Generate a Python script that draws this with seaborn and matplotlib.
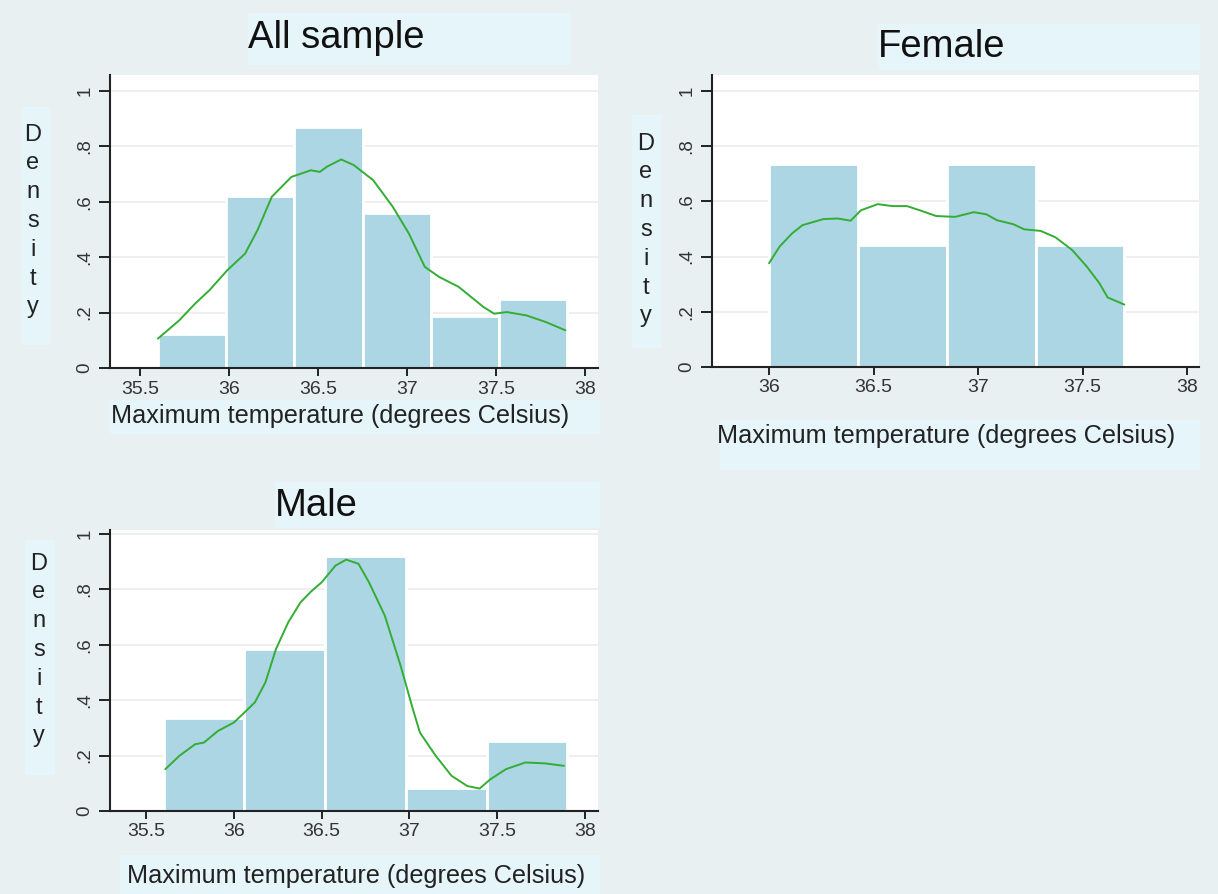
import numpy as np
import pandas as pd
import matplotlib
matplotlib.use("Agg")
import matplotlib.pyplot as plt
from matplotlib.patches import Rectangle
import seaborn as sns

# ---------------- data ----------------
all_edges = [35.6, 35.983, 36.367, 36.75, 37.133, 37.517, 37.9]
all_counts = [2, 10, 14, 9, 3, 4]
all_kde_x = [35.60, 35.72, 35.81, 35.89, 35.99, 36.09, 36.16, 36.24, 36.35, 36.46,
             36.51, 36.55, 36.63, 36.70, 36.81, 36.92, 37.01, 37.10, 37.18, 37.29,
             37.43, 37.49, 37.56, 37.67, 37.78, 37.89]
all_kde_y = [0.106, 0.172, 0.233, 0.281, 0.353, 0.413, 0.498, 0.618, 0.690, 0.714,
             0.708, 0.727, 0.753, 0.733, 0.678, 0.582, 0.486, 0.365, 0.329, 0.293,
             0.220, 0.196, 0.202, 0.190, 0.166, 0.136]

female_edges = [36.0, 36.425, 36.85, 37.275, 37.7]
female_counts = [5, 3, 5, 3]
female_kde_x = [36.00, 36.05, 36.11, 36.16, 36.26, 36.33, 36.39, 36.44, 36.52, 36.59,
                36.66, 36.72, 36.80, 36.89, 36.98, 37.04, 37.09, 37.17, 37.22, 37.30,
                37.37, 37.45, 37.52, 37.58, 37.62, 37.70]
female_kde_y = [0.376, 0.436, 0.484, 0.514, 0.536, 0.538, 0.530, 0.568, 0.590, 0.583,
                0.583, 0.568, 0.547, 0.544, 0.561, 0.553, 0.532, 0.517, 0.499, 0.493,
                0.470, 0.424, 0.364, 0.304, 0.252, 0.226]

male_edges = [35.6, 36.06, 36.52, 36.98, 37.44, 37.9]
male_counts = [4, 7, 11, 1, 3]
male_kde_x = [35.61, 35.69, 35.78, 35.83, 35.91, 36.00, 36.04, 36.12, 36.18, 36.24,
              36.31, 36.38, 36.44, 36.50, 36.58, 36.64, 36.71, 36.77, 36.86, 36.95,
              37.02, 37.06, 37.15, 37.24, 37.33, 37.40, 37.46, 37.55, 37.66, 37.77,
              37.88]
male_kde_y = [0.151, 0.199, 0.241, 0.247, 0.289, 0.319, 0.343, 0.392, 0.464, 0.584,
              0.681, 0.753, 0.792, 0.825, 0.886, 0.907, 0.892, 0.825, 0.705, 0.524,
              0.367, 0.283, 0.199, 0.127, 0.090, 0.081, 0.114, 0.151, 0.175, 0.172,
              0.163]

titles = ["All sample", "Female", "Male"]
x_label = "Maximum temperature (degrees Celsius)"
y_label = "Density"
y_ticks = [0, 0.2, 0.4, 0.6, 0.8, 1.0]
y_ticklabels = ["0", ".2", ".4", ".6", ".8", "1"]
x_ticks_full = [35.5, 36, 36.5, 37, 37.5, 38]
x_ticklabels_full = ["35.5", "36", "36.5", "37", "37.5", "38"]
x_ticks_f = [36, 36.5, 37, 37.5, 38]
x_ticklabels_f = ["36", "36.5", "37", "37.5", "38"]

# ---------------- style ----------------
sns.set_theme(style="white")
plt.rcParams['font.family'] = ['Liberation Sans', 'DejaVu Sans']

BG = "#e9f0f2"
BOX = "#e5f5fa"
BAR = "#acd6e4"
GREEN = "#33ad33"
AX = "#222222"

W, H = 1218, 894
fig = plt.figure(figsize=(W / 100, H / 100), dpi=100)
fig.patch.set_facecolor(BG)


def add_box(x0, y0, x1, y1):
    fig.patches.append(Rectangle((x0 / W, 1 - y1 / H), (x1 - x0) / W, (y1 - y0) / H,
                                 transform=fig.transFigure, facecolor=BOX,
                                 edgecolor="none", zorder=-1))


def ftext(x, y, s, **kw):
    fig.text(x / W, 1 - y / H, s, **kw)


panels = [
    dict(edges=all_edges, counts=all_counts, kx=all_kde_x, ky=all_kde_y,
         ax=(110, 75, 598, 368), xlim=(35.331, 38.073), ylim=(0, 1.058),
         xt=x_ticks_full, xtl=x_ticklabels_full, title=titles[0],
         tbox=(248, 13, 570, 65), tpos=(336, 38),
         xbox=(110, 400, 600, 434), xpos=(340, 416),
         ybox=(22, 107, 50, 345), ypos=(33, 221)),
    dict(edges=female_edges, counts=female_counts, kx=female_kde_x, ky=female_kde_y,
         ax=(712, 75, 1199, 367), xlim=(35.727, 38.057), ylim=(0, 1.058),
         xt=x_ticks_f, xtl=x_ticklabels_f, title=titles[1],
         tbox=(878, 24, 1200, 70), tpos=(942, 47),
         xbox=(720, 420, 1200, 470), xpos=(946, 436),
         ybox=(632, 115, 662, 348), ypos=(646, 230)),
    dict(edges=male_edges, counts=male_counts, kx=male_kde_x, ky=male_kde_y,
         ax=(110, 530, 598, 811), xlim=(35.295, 38.074), ylim=(0, 1.014),
         xt=x_ticks_full, xtl=x_ticklabels_full, title=titles[2],
         tbox=(275, 482, 600, 528), tpos=(316, 506),
         xbox=(120, 855, 600, 894), xpos=(356, 876),
         ybox=(25, 540, 55, 775), ypos=(39, 650)),
]

for p in panels:
    add_box(*p["tbox"])
    add_box(*p["xbox"])
    add_box(*p["ybox"])

    x0, y0, x1, y1 = p["ax"]
    ax = fig.add_axes([x0 / W, 1 - y1 / H, (x1 - x0) / W, (y1 - y0) / H])
    ax.set_facecolor("white")

    edges = np.array(p["edges"])
    hist_df = pd.DataFrame({"temp": (edges[:-1] + edges[1:]) / 2,
                            "count": np.array(p["counts"], dtype=float)})
    sns.histplot(data=hist_df, x="temp", weights="count", bins=list(p["edges"]),
                 stat="density", color=BAR, alpha=1, edgecolor="white",
                 linewidth=2, ax=ax)
    kde_df = pd.DataFrame({"temp": p["kx"], "dens": p["ky"]})
    sns.lineplot(data=kde_df, x="temp", y="dens", color=GREEN, linewidth=1.4,
                 ax=ax, sort=False, estimator=None)

    ax.set_xlim(*p["xlim"])
    ax.set_ylim(*p["ylim"])
    ax.set_xticks(p["xt"])
    ax.set_xticklabels(p["xtl"])
    ax.set_yticks(y_ticks)
    ax.set_yticklabels(y_ticklabels, rotation=90, va="center")
    ax.set_xlabel("")
    ax.set_ylabel("")
    ax.yaxis.grid(True, color="#efefef", linewidth=1.5)
    ax.set_axisbelow(True)
    for s in ["top", "right"]:
        ax.spines[s].set_visible(False)
    for s in ["left", "bottom"]:
        ax.spines[s].set_color(AX)
        ax.spines[s].set_linewidth(1.5)
    ax.tick_params(axis="x", bottom=True, direction="out", length=6, width=1.4,
                   color=AX, labelcolor="#333333", labelsize=14, pad=3)
    ax.tick_params(axis="y", left=True, direction="out", length=8, width=1.4,
                   color=AX, labelcolor="#333333", labelsize=13.5, pad=4)

    ftext(*p["tpos"], p["title"], ha="center", va="center", fontsize=27.5, color="#111111")
    ftext(*p["xpos"], x_label, ha="center", va="center", fontsize=18.2, color="#222222")
    ftext(*p["ypos"], "\n".join(list(y_label)), ha="center", va="center",
          fontsize=17, color="#222222", linespacing=1.40)

fig.savefig("out.png", dpi=100, facecolor=BG)
